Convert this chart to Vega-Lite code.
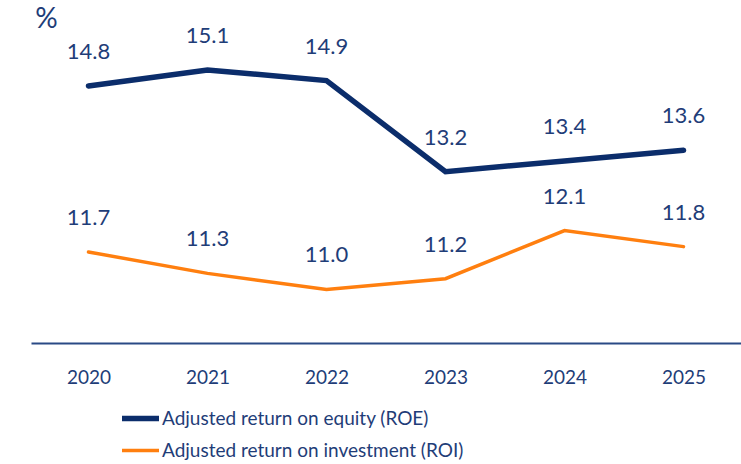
{
  "$schema": "https://vega.github.io/schema/vega-lite/v6.json",
  "width": 710,
  "height": 332,
  "autosize": {"type": "none"},
  "padding": {"left": 31, "top": 11, "right": 0, "bottom": 121},
  "background": "white",
  "config": {"view": {"stroke": null}, "font": "Lato"},
  "data": {
    "values": [
      {"year": "2020", "series": "Adjusted return on equity (ROE)", "value": 14.8},
      {"year": "2021", "series": "Adjusted return on equity (ROE)", "value": 15.1},
      {"year": "2022", "series": "Adjusted return on equity (ROE)", "value": 14.9},
      {"year": "2023", "series": "Adjusted return on equity (ROE)", "value": 13.2},
      {"year": "2024", "series": "Adjusted return on equity (ROE)", "value": 13.4},
      {"year": "2025", "series": "Adjusted return on equity (ROE)", "value": 13.6},
      {"year": "2020", "series": "Adjusted return on investment (ROI)", "value": 11.7},
      {"year": "2021", "series": "Adjusted return on investment (ROI)", "value": 11.3},
      {"year": "2022", "series": "Adjusted return on investment (ROI)", "value": 11.0},
      {"year": "2023", "series": "Adjusted return on investment (ROI)", "value": 11.2},
      {"year": "2024", "series": "Adjusted return on investment (ROI)", "value": 12.1},
      {"year": "2025", "series": "Adjusted return on investment (ROI)", "value": 11.8}
    ]
  },
  "encoding": {
    "x": {
      "field": "year",
      "type": "ordinal",
      "scale": {"type": "point", "padding": 0.483},
      "axis": {
        "title": null,
        "labelAngle": 0,
        "ticks": false,
        "domainColor": "#2a4a85",
        "domainWidth": 2,
        "labelPadding": 25,
        "labelFontSize": 19,
        "labelColor": "#1f3d78",
        "grid": false
      }
    },
    "y": {
      "field": "value",
      "type": "quantitative",
      "scale": {"domain": [10, 16.2], "zero": false, "nice": false},
      "axis": {
        "title": "%",
        "titleAngle": 0,
        "titleX": 15,
        "titleY": 8,
        "titleAlign": "center",
        "titleBaseline": "middle",
        "titleFontSize": 28,
        "titleFontWeight": "normal",
        "titleColor": "#1f3d78",
        "labels": false,
        "ticks": false,
        "domain": false,
        "grid": false
      }
    }
  },
  "layer": [
    {
      "mark": {"type": "line", "strokeCap": "round", "strokeJoin": "miter"},
      "encoding": {
        "color": {
          "field": "series",
          "type": "nominal",
          "scale": {"range": ["#0b2d6b", "#ff7f0f"]},
          "legend": {
            "title": null,
            "orient": "none",
            "legendX": 88,
            "legendY": 386,
            "symbolType": "stroke",
            "symbolSize": 1369,
            "labelFontSize": 19,
            "labelColor": "#1f3d78",
            "labelOffset": 0,
            "rowPadding": -6,
            "labelLimit": 500
          }
        },
        "strokeWidth": {
          "field": "series",
          "type": "nominal",
          "scale": {"range": [5.5, 3.5]},
          "legend": {
            "title": null,
            "orient": "none",
            "legendX": 88,
            "legendY": 386,
            "symbolType": "stroke",
            "symbolSize": 1369,
            "labelFontSize": 19,
            "labelColor": "#1f3d78",
            "labelOffset": 0,
            "rowPadding": -6,
            "labelLimit": 500
          }
        }
      }
    },
    {
      "mark": {"type": "text", "dy": -34, "fontSize": 22, "color": "#1f3d78"},
      "encoding": {
        "text": {"field": "value", "type": "quantitative", "format": ".1f"}
      }
    }
  ]
}
